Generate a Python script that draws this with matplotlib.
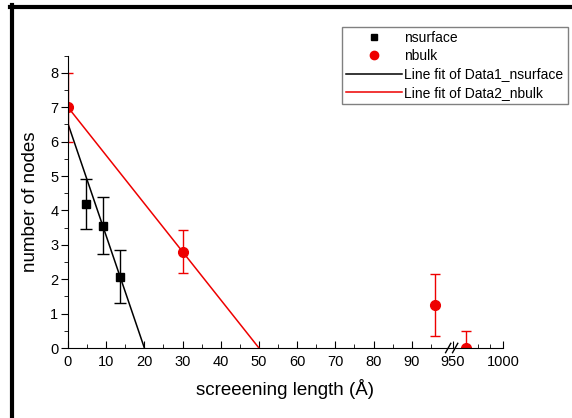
import numpy as np
import matplotlib
matplotlib.use('Agg')
import matplotlib.pyplot as plt
from matplotlib.lines import Line2D

plt.rcParams['font.family'] = ['Liberation Sans', 'DejaVu Sans']

# datos
surf_x = [4.6, 9.1, 13.7]
surf_y = [4.19, 3.55, 2.07]
surf_err = [0.72, 0.83, 0.77]

bulk_x = [0, 30, 96, 963]
bulk_y = [7.0, 2.8, 1.24, 0.0]
bulk_err = [1.0, 0.63, 0.9, 0.48]

# rectas de ajuste
fit1_x = [0, 20]
fit1_y = [6.52, 0]
fit2_x = [0, 50]
fit2_y = [7.0, 0]

xticks = [0, 10, 20, 30, 40, 50, 60, 70, 80, 90, 950, 1000]
xminor = [5, 15, 25, 35, 45, 55, 65, 75, 85, 95, 962.5, 975, 987.5]

# escala con corte: 0-100 y 950-1000
xp = [-1000, 100, 950, 2000]
fp = [-1000, 100, 100.8, 100.8 + 1050 * 0.262]
def fwd(x):
    return np.interp(x, xp, fp)
def inv(x):
    return np.interp(x, fp, xp)

fig = plt.figure(figsize=(5.72, 4.18), dpi=100)
ax = fig.add_axes([68/572, 1-348/418, (503-68)/572, (348-55.7)/418])
ax.set_xscale('function', functions=(fwd, inv))

ax.plot(fit1_x, fit1_y, color='black', lw=1.1, label='Line fit of Data1_nsurface')
ax.plot(fit2_x, fit2_y, color='#ee0000', lw=1.1, label='Line fit of Data2_nbulk')
ax.errorbar(surf_x, surf_y, yerr=surf_err, fmt='s', color='black', ms=6,
            capsize=4, elinewidth=1, capthick=1, label='nsurface')
ax.errorbar(bulk_x, bulk_y, yerr=bulk_err, fmt='o', color='#ee0000', ms=7,
            capsize=3.5, elinewidth=1, capthick=1, label='nbulk')

ax.set_xlim(0, 1000)
ax.set_ylim(0, 8.47)
ax.set_xticks(xticks)
ax.set_xticks(xminor, minor=True)
ax.set_xticklabels([str(t) for t in xticks])
ax.set_yticks(range(0, 9))
ax.set_yticks(np.arange(0.5, 8.6, 1.0), minor=True)

ax.spines['top'].set_visible(False)
ax.spines['right'].set_visible(False)
ax.tick_params(axis='x', which='major', direction='in', length=5, labelsize=10.5, pad=5)
ax.tick_params(axis='x', which='minor', direction='in', length=3)
ax.tick_params(axis='y', which='major', direction='out', length=5, labelsize=10.5, pad=2)
ax.tick_params(axis='y', which='minor', direction='out', length=3)

ax.set_xlabel('screeening length (Å)', fontsize=13.5, labelpad=7)
ax.set_ylabel('number of nodes', fontsize=13.5, labelpad=8)

# marcas de corte (en fraccion de ejes)
for cx in [0.874, 0.890]:
    ax.plot([cx - 0.006, cx + 0.006], [-0.016, 0.016], color='black', lw=1,
            transform=ax.transAxes, clip_on=False)

h, l = ax.get_legend_handles_labels()
order = [2, 3, 0, 1]
hs = [Line2D([], [], marker='s', ls='none', color='black', ms=5),
      Line2D([], [], marker='o', ls='none', color='#ee0000', ms=6),
      h[0], h[1]]
leg = fig.legend(hs, [l[i] for i in order], loc='upper left',
                 bbox_to_anchor=(342/572, 1-27/418), borderaxespad=0,
                 fancybox=False, edgecolor='#808080', framealpha=1,
                 fontsize=10, handlelength=4.0, handletextpad=0.2,
                 labelspacing=0.3, borderpad=0.3)
leg.get_frame().set_linewidth(1)

# marco de la figura
fig.add_artist(Line2D([11.5/572, 11.5/572], [0, 1-5/418], color='black', lw=3,
                      transform=fig.transFigure))
fig.add_artist(Line2D([10/572, 1], [1-6.5/418, 1-6.5/418], color='black', lw=3,
                      transform=fig.transFigure))

fig.savefig('out.png', dpi=100)
